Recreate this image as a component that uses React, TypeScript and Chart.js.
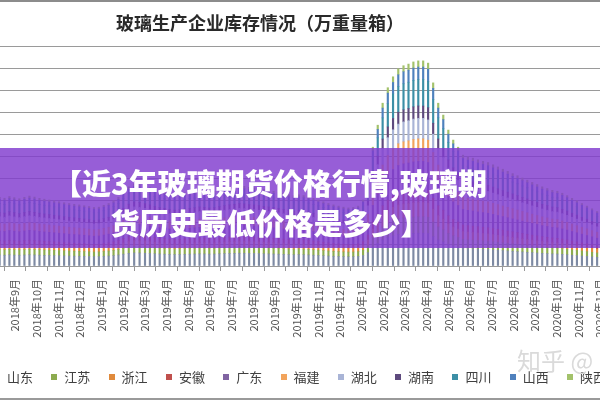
import React, { useEffect, useRef } from "react";
import { Chart, registerables } from "chart.js";

Chart.register(...registerables);

const TITLE = "玻璃生产企业库存情况（万重量箱）";
const BANNER_LINES = ["【近3年玻璃期货价格行情,玻璃期", "货历史最低价格是多少】"];
const WATERMARK = "知乎 @";

// month tick labels (index 0 = 2018年8月)
const MONTH_LABELS = [
  "2018年8月", "2018年9月", "2018年10月", "2018年11月", "2018年12月",
  "2019年1月", "2019年2月", "2019年3月", "2019年4月", "2019年5月", "2019年6月",
  "2019年7月", "2019年8月", "2019年9月", "2019年10月", "2019年11月", "2019年12月",
  "2020年1月", "2020年2月", "2020年3月", "2020年4月", "2020年5月", "2020年6月",
  "2020年7月", "2020年8月", "2020年9月", "2020年10月", "2020年11月", "2020年12月",
  "2021年1月",
];

// weekly observations (Fridays) starting at this date
const FIRST_WEEK_UTC = Date.UTC(2018, 7, 10);

const SERIES_NAMES = ["山东", "江苏", "浙江", "安徽", "广东", "福建", "湖北", "湖南", "四川", "山西", "陕西"];
const SERIES_COLORS = ["#7d8aa3", "#8cab4f", "#e08a3c", "#c0504d", "#8064a2", "#f2a45c", "#a9b4d6", "#5e4a7e", "#3c8fa6", "#4f81bd", "#a3c26b"];

const SHANDONG = [
  250, 246, 253, 248, 245, 250, 254, 251, 246, 243,
  240, 237, 234, 230, 227, 224, 222, 219, 216, 213,
  214, 221, 227, 237, 250, 269, 288, 298, 296, 291,
  285, 278, 272, 269, 264, 261, 262, 266, 269, 272,
  275, 274, 270, 272, 277, 282, 285, 288, 291, 290,
  286, 285, 282, 278, 275, 272, 269, 264, 259, 256,
  259, 256, 251, 246, 240, 234, 227, 222, 218, 214,
  211, 213, 218, 240, 304, 432, 512, 592, 648, 688,
  717, 728, 734, 742, 746, 746, 738, 666, 592, 549,
  494, 458, 432, 403, 397, 392, 386, 381, 376, 368,
  360, 352, 344, 336, 328, 320, 312, 304, 296, 288,
  282, 275, 272, 264, 256, 246, 237, 227, 218, 208,
  198, 189, 179, 173, 168,
];
const JIANGSU = [
  125, 123, 126, 124, 122, 125, 127, 126, 123, 122,
  120, 118, 117, 115, 114, 112, 111, 110, 108, 106,
  107, 110, 114, 118, 125, 134, 144, 149, 148, 146,
  142, 139, 136, 134, 132, 130, 131, 133, 134, 136,
  138, 137, 135, 136, 138, 141, 142, 144, 146, 145,
  143, 142, 141, 139, 138, 136, 134, 132, 130, 128,
  130, 128, 126, 123, 120, 117, 114, 111, 109, 107,
  106, 106, 109, 120, 152, 216, 256, 296, 324, 344,
  358, 364, 367, 371, 373, 373, 369, 333, 296, 274,
  247, 229, 216, 202, 198, 196, 193, 190, 188, 184,
  180, 176, 172, 168, 164, 160, 156, 152, 148, 144,
  141, 138, 136, 132, 128, 123, 118, 114, 109, 104,
  99, 94, 90, 86, 84,
];
const ZHEJIANG = [
  109, 108, 111, 109, 107, 109, 111, 110, 108, 106,
  105, 104, 102, 101, 99, 98, 97, 96, 95, 93,
  94, 97, 99, 104, 109, 118, 126, 130, 130, 127,
  125, 122, 119, 118, 116, 114, 115, 116, 118, 119,
  120, 120, 118, 119, 121, 123, 125, 126, 127, 127,
  125, 125, 123, 122, 120, 119, 118, 116, 113, 112,
  113, 112, 110, 108, 105, 102, 99, 97, 95, 94,
  92, 93, 95, 105, 133, 189, 224, 259, 284, 301,
  314, 319, 321, 325, 326, 326, 323, 291, 259, 240,
  216, 200, 189, 176, 174, 172, 169, 167, 165, 161,
  158, 154, 151, 147, 144, 140, 137, 133, 130, 126,
  123, 120, 119, 116, 112, 108, 104, 99, 95, 91,
  87, 83, 78, 76, 74,
];
const ANHUI = [
  94, 92, 95, 93, 92, 94, 95, 94, 92, 91,
  90, 89, 88, 86, 85, 84, 83, 82, 81, 80,
  80, 83, 85, 89, 94, 101, 108, 112, 111, 109,
  107, 104, 102, 101, 99, 98, 98, 100, 101, 102,
  103, 103, 101, 102, 104, 106, 107, 108, 109, 109,
  107, 107, 106, 104, 103, 102, 101, 99, 97, 96,
  97, 96, 94, 92, 90, 88, 85, 83, 82, 80,
  79, 80, 82, 90, 114, 162, 192, 222, 243, 258,
  269, 273, 275, 278, 280, 280, 277, 250, 222, 206,
  185, 172, 162, 151, 149, 147, 145, 143, 141, 138,
  135, 132, 129, 126, 123, 120, 117, 114, 111, 108,
  106, 103, 102, 99, 96, 92, 89, 85, 82, 78,
  74, 71, 67, 65, 63,
];
const GUANGDONG = [
  218, 216, 221, 217, 214, 218, 223, 220, 216, 213,
  210, 207, 204, 202, 199, 196, 195, 192, 189, 186,
  188, 193, 199, 207, 218, 235, 252, 260, 259, 255,
  249, 244, 238, 235, 231, 228, 230, 232, 235, 238,
  241, 239, 237, 238, 242, 246, 249, 252, 255, 253,
  251, 249, 246, 244, 241, 238, 235, 231, 227, 224,
  227, 224, 220, 216, 210, 204, 199, 195, 190, 188,
  185, 186, 190, 210, 266, 378, 448, 518, 567, 602,
  627, 637, 643, 650, 652, 652, 645, 582, 518, 480,
  433, 400, 378, 353, 347, 343, 337, 333, 329, 322,
  315, 308, 301, 294, 287, 280, 273, 266, 259, 252,
  246, 241, 238, 231, 224, 216, 207, 199, 190, 182,
  174, 165, 157, 151, 147,
];
const FUJIAN = [
  172, 169, 174, 171, 168, 172, 175, 173, 169, 167,
  165, 163, 161, 158, 156, 154, 153, 151, 149, 146,
  147, 152, 156, 163, 172, 185, 198, 205, 204, 200,
  196, 191, 187, 185, 182, 179, 180, 183, 185, 187,
  189, 188, 186, 187, 190, 194, 196, 198, 200, 199,
  197, 196, 194, 191, 189, 187, 185, 182, 178, 176,
  178, 176, 173, 169, 165, 161, 156, 153, 150, 147,
  145, 146, 150, 165, 209, 297, 352, 407, 446, 473,
  493, 501, 505, 510, 513, 513, 507, 458, 407, 377,
  340, 315, 297, 277, 273, 270, 265, 262, 259, 253,
  248, 242, 237, 231, 226, 220, 215, 209, 204, 198,
  194, 189, 187, 182, 176, 169, 163, 156, 150, 143,
  136, 130, 123, 119, 116,
];
const HUBEI = [
  156, 154, 161, 155, 153, 156, 159, 155, 154, 152,
  150, 148, 146, 144, 142, 143, 139, 137, 135, 133,
  134, 138, 142, 148, 156, 168, 180, 190, 185, 182,
  178, 174, 170, 168, 165, 163, 164, 166, 168, 170,
  172, 171, 169, 170, 171, 176, 178, 180, 182, 181,
  179, 178, 176, 174, 172, 170, 168, 165, 162, 160,
  162, 160, 159, 154, 150, 146, 142, 139, 136, 134,
  132, 133, 136, 150, 190, 270, 320, 370, 405, 430,
  448, 455, 459, 464, 466, 466, 461, 416, 370, 343,
  309, 286, 270, 252, 248, 245, 244, 238, 235, 230,
  225, 220, 215, 210, 205, 200, 195, 190, 185, 180,
  176, 172, 170, 167, 160, 154, 148, 142, 136, 130,
  124, 118, 112, 108, 105,
];
const HUNAN = [
  91, 94, 93, 95, 90, 93, 97, 92, 93, 89,
  91, 87, 89, 85, 86, 83, 84, 81, 82, 79,
  81, 82, 86, 88, 95, 100, 109, 111, 112, 108,
  108, 103, 103, 100, 100, 97, 99, 99, 102, 101,
  104, 102, 102, 101, 105, 105, 108, 107, 110, 108,
  108, 106, 107, 103, 104, 101, 102, 98, 98, 95,
  98, 95, 95, 91, 91, 87, 86, 82, 83, 79,
  80, 79, 83, 89, 115, 161, 193, 221, 244, 257,
  270, 272, 276, 277, 281, 279, 278, 249, 223, 205,
  186, 171, 163, 150, 150, 146, 146, 142, 142, 137,
  136, 131, 130, 125, 124, 119, 118, 113, 112, 107,
  107, 102, 103, 98, 97, 91, 90, 84, 83, 77,
  75, 70, 68, 64, 64,
];
const SICHUAN = [
  203, 200, 205, 202, 199, 203, 207, 204, 200, 198,
  195, 192, 190, 187, 185, 182, 181, 178, 176, 173,
  174, 179, 185, 192, 203, 218, 234, 242, 241, 237,
  231, 226, 221, 218, 215, 212, 213, 216, 218, 221,
  224, 222, 220, 221, 225, 229, 231, 234, 237, 235,
  233, 231, 229, 226, 224, 221, 218, 215, 211, 208,
  211, 208, 204, 200, 195, 190, 185, 181, 177, 174,
  172, 173, 177, 195, 247, 351, 416, 481, 527, 559,
  582, 592, 597, 603, 606, 606, 599, 541, 481, 446,
  402, 372, 351, 328, 322, 319, 313, 309, 306, 299,
  293, 286, 280, 273, 267, 260, 254, 247, 241, 234,
  229, 224, 221, 215, 208, 200, 192, 185, 177, 169,
  161, 153, 146, 140, 137,
];
const SHANXI = [
  96, 93, 94, 92, 93, 95, 94, 95, 91, 92,
  89, 90, 87, 87, 84, 85, 82, 83, 80, 81,
  79, 84, 84, 90, 93, 102, 107, 113, 110, 110,
  106, 105, 101, 102, 98, 99, 97, 101, 100, 103,
  102, 104, 100, 103, 103, 107, 106, 109, 108, 110,
  106, 108, 105, 105, 102, 103, 100, 100, 96, 97,
  96, 97, 93, 93, 89, 89, 84, 84, 81, 81,
  78, 81, 81, 91, 113, 163, 191, 223, 242, 259,
  268, 274, 274, 279, 279, 281, 276, 251, 221, 207,
  184, 173, 161, 152, 148, 148, 144, 144, 140, 139,
  134, 133, 128, 127, 122, 121, 116, 115, 110, 109,
  105, 104, 101, 100, 95, 93, 88, 86, 81, 79,
  73, 72, 66, 66, 62,
];
const SHAANXI = [
  47, 46, 47, 47, 46, 47, 48, 47, 46, 46,
  45, 44, 44, 43, 43, 42, 42, 41, 41, 40,
  40, 41, 43, 44, 47, 50, 54, 56, 56, 55,
  53, 52, 51, 50, 50, 49, 49, 50, 50, 51,
  52, 51, 51, 51, 52, 53, 53, 54, 55, 54,
  54, 53, 53, 52, 52, 51, 50, 50, 49, 48,
  49, 48, 47, 46, 45, 44, 43, 42, 41, 40,
  40, 40, 41, 45, 57, 81, 96, 111, 122, 129,
  134, 137, 138, 139, 140, 140, 138, 125, 111, 103,
  93, 86, 81, 76, 74, 74, 72, 71, 71, 69,
  68, 66, 65, 63, 62, 60, 59, 57, 56, 54,
  53, 52, 51, 50, 48, 46, 44, 43, 41, 39,
  37, 35, 34, 32, 32,
];

const SERIES_VALUES = [SHANDONG, JIANGSU, ZHEJIANG, ANHUI, GUANGDONG, FUJIAN, HUBEI, HUNAN, SICHUAN, SHANXI, SHAANXI];

const Y_MAX = 5000;
const Y_STEP = 500;
const X_MIN = 0.3077;
const X_MAX = 28.0;

const FONT = '"Noto Sans CJK SC", "Noto Sans", sans-serif';

// x position of each weekly date in "months since 2018年8月"
const DAY_MS = 86400000;
const WEEK_X = SHANDONG.map((_, i) => {
  const d = new Date(FIRST_WEEK_UTC + i * 7 * DAY_MS);
  const y = d.getUTCFullYear();
  const m = d.getUTCMonth();
  const day = d.getUTCDate();
  const dim = new Date(Date.UTC(y, m + 1, 0)).getUTCDate();
  return (y - 2018) * 12 + (m - 7) + (day - 1) / dim;
});

const LEGEND_TEXT_X0 = 7;
const LEGEND_STEP = 57.3;

const decorPlugin = {
  id: "decor",
  afterDraw(chart: any) {
    const ctx = chart.ctx as CanvasRenderingContext2D;
    ctx.save();
    ctx.fillStyle = "#8c8c8c";
    ctx.fillRect(0, 0, 600, 2);
    ctx.fillStyle = "#9a9a9a";
    ctx.fillRect(0, 398, 600, 2);
    ctx.font = `600 18px ${FONT}`;
    ctx.fillStyle = "#2a2a2a";
    ctx.textAlign = "center";
    ctx.textBaseline = "middle";
    ctx.fillText(TITLE, 260, 23);
    ctx.font = `13px ${FONT}`;
    ctx.textAlign = "left";
    chart.data.datasets.forEach((ds: any, i: number) => {
      const tx = LEGEND_TEXT_X0 + i * LEGEND_STEP;
      ctx.fillStyle = ds.backgroundColor;
      ctx.fillRect(Math.round(tx - 13), 374, 6, 6);
      ctx.fillStyle = "#404040";
      ctx.fillText(ds.label, tx, 377);
    });
    ctx.restore();
  },
};

export default function App() {
  const canvasRef = useRef<HTMLCanvasElement | null>(null);

  useEffect(() => {
    const canvas = canvasRef.current;
    if (!canvas) return;
    const chart = new Chart(canvas, {
      type: "bar",
      data: {
        datasets: SERIES_NAMES.map((name, k) => ({
          label: name,
          data: SERIES_VALUES[k].map((v, i) => ({ x: WEEK_X[i], y: v })),
          backgroundColor: SERIES_COLORS[k],
          borderWidth: 0,
          barThickness: 1.5,
        })),
      },
      options: {
        animation: false,
        responsive: false,
        maintainAspectRatio: false,
        layout: { padding: { top: 46, bottom: 54, left: 0, right: 0 } },
        plugins: {
          legend: { display: false },
          title: { display: false },
          tooltip: { enabled: false },
        },
        scales: {
          x: {
            type: "linear",
            stacked: true,
            bounds: "data",
            min: X_MIN,
            max: X_MAX,
            offset: false,
            afterBuildTicks: (axis: any) => {
              axis.ticks = MONTH_LABELS.map((_, i) => ({ value: i })).filter(
                (t) => t.value >= X_MIN && t.value <= X_MAX + 1e-9
              );
            },
            afterFit: (axis: any) => {
              axis.height = 80;
              axis.paddingLeft = 0;
              axis.paddingRight = 0;
            },
            ticks: {
              autoSkip: false,
              maxRotation: 90,
              minRotation: 90,
              padding: 8,
              color: "#555",
              font: { family: FONT, size: 11 },
              callback: (value: any) => MONTH_LABELS[Math.round(Number(value))] ?? "",
            },
            grid: { drawOnChartArea: false, drawTicks: true, tickLength: 5, color: "#999" },
            border: { display: true, color: "#999" },
          },
          y: {
            stacked: true,
            min: 0,
            max: Y_MAX,
            ticks: { stepSize: Y_STEP, display: false },
            grid: { color: "#9a9a9a", drawTicks: false },
            border: { display: false },
            afterFit: (axis: any) => {
              axis.width = 0;
            },
          },
        },
      } as any,
      plugins: [decorPlugin],
    });
    return () => chart.destroy();
  }, []);

  return (
    <div
      style={{
        position: "fixed",
        left: 0,
        top: 0,
        width: 600,
        height: 400,
        overflow: "hidden",
        background: "#fff",
      }}
    >
      <canvas ref={canvasRef} width={600} height={400} style={{ display: "block" }} />
      <div
        style={{
          position: "absolute",
          left: 0,
          top: 148,
          width: 600,
          height: 100,
          background: "rgba(128, 58, 206, 0.82)",
        }}
      >
        <div
          style={{
            position: "absolute",
            left: 0,
            top: 14,
            width: 540,
            textAlign: "center",
            color: "#fff",
            fontFamily: FONT,
            fontWeight: 900,
            fontSize: 29,
            lineHeight: "40px",
            whiteSpace: "nowrap",
          }}
        >
          <div>{BANNER_LINES[0]}</div>
          <div>{BANNER_LINES[1]}</div>
        </div>
      </div>
      <div
        style={{
          position: "absolute",
          left: 517,
          top: 342,
          fontFamily: FONT,
          fontSize: 24,
          color: "#dadada",
          whiteSpace: "nowrap",
        }}
      >
        {WATERMARK}
      </div>
    </div>
  );
}
